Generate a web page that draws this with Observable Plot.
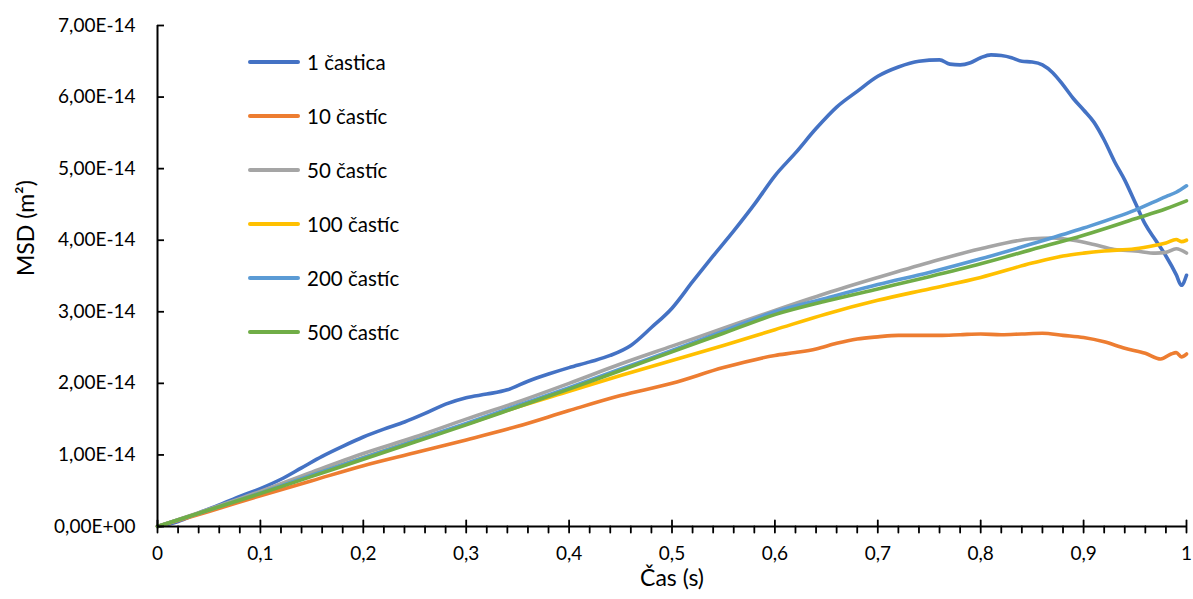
<!DOCTYPE html>
<html>
<head>
<meta charset="utf-8">
<script src="https://cdn.jsdelivr.net/npm/d3@7"></script>
<script src="https://cdn.jsdelivr.net/npm/@observablehq/plot@0.6"></script>
<style>
  html, body { margin: 0; padding: 0; background: #fff; }
  #wrap { position: relative; width: 1193px; height: 599px; font-family: Lato, "Open Sans", sans-serif; }
  #legend { position: absolute; left: 248px; top: 35px; }
  .row { display: flex; align-items: center; height: 54px; font-size: 20.5px; color: #000; }
  .sw { width: 52px; height: 4px; border-radius: 2px; margin-right: 7px; }
</style>
</head>
<body>
<div id="wrap"><div id="legend"></div></div>
<script>
// ---- Data (MSD in units of 1e-14 m^2) ----
const seriesNames = ["1 častica", "10 častíc", "50 častíc", "100 častíc", "200 častíc", "500 častíc"];
const seriesColors = ["#4472C4", "#ED7D31", "#A5A5A5", "#FFC000", "#5B9BD5", "#70AD47"];

const t1 = [0,0.02,0.04,0.06,0.08,0.10,0.12,0.14,0.16,0.18,0.20,0.22,0.24,0.26,0.28,0.30,0.32,0.34,0.36,0.38,0.40,0.42,0.44,0.46,0.48,0.50,0.52,0.54,0.56,0.58,0.60,0.62,0.64,0.66,0.68,0.70,0.72,0.74,0.76,0.77,0.78,0.79,0.80,0.81,0.82,0.83,0.84,0.85,0.86,0.87,0.88,0.89,0.90,0.91,0.92,0.93,0.94,0.95,0.96,0.97,0.98,0.99,0.995,1.0];
const msd1 = [0,0.07,0.19,0.30,0.42,0.53,0.66,0.82,0.98,1.12,1.25,1.36,1.46,1.58,1.71,1.80,1.85,1.91,2.03,2.13,2.22,2.30,2.39,2.53,2.78,3.05,3.42,3.78,4.13,4.50,4.90,5.22,5.56,5.86,6.08,6.29,6.42,6.50,6.52,6.46,6.45,6.48,6.55,6.59,6.58,6.55,6.50,6.49,6.45,6.34,6.17,5.98,5.82,5.65,5.40,5.10,4.84,4.53,4.22,4.00,3.78,3.52,3.37,3.51];

const t10 = [0,0.05,0.1,0.15,0.2,0.25,0.3,0.35,0.4,0.45,0.5,0.55,0.6,0.62,0.64,0.66,0.68,0.70,0.72,0.74,0.76,0.78,0.80,0.82,0.84,0.86,0.88,0.90,0.92,0.94,0.96,0.975,0.985,0.99,0.995,1.0];
const msd10 = [0,0.21,0.43,0.64,0.85,1.03,1.21,1.40,1.62,1.83,2.00,2.22,2.39,2.43,2.48,2.56,2.62,2.65,2.67,2.67,2.67,2.68,2.69,2.68,2.69,2.70,2.67,2.64,2.58,2.49,2.42,2.34,2.41,2.43,2.37,2.41];

const t50 = [0,0.05,0.1,0.15,0.2,0.25,0.3,0.35,0.4,0.45,0.5,0.55,0.6,0.65,0.7,0.75,0.8,0.85,0.87,0.89,0.91,0.93,0.95,0.97,0.98,0.99,1.0];
const msd50 = [0,0.24,0.49,0.76,1.02,1.25,1.50,1.74,2.00,2.27,2.52,2.77,3.02,3.26,3.48,3.69,3.88,4.02,4.03,4.00,3.94,3.87,3.85,3.82,3.83,3.88,3.82];

const t100 = [0,0.05,0.1,0.15,0.2,0.25,0.3,0.35,0.4,0.45,0.5,0.55,0.6,0.65,0.7,0.75,0.8,0.85,0.88,0.9,0.92,0.95,0.97,0.98,0.99,0.995,1.0];
const msd100 = [0,0.23,0.47,0.72,0.96,1.20,1.43,1.67,1.89,2.11,2.32,2.53,2.75,2.97,3.16,3.32,3.48,3.68,3.78,3.82,3.85,3.88,3.93,3.96,4.01,3.98,4.00];

const t200 = [0,0.05,0.1,0.15,0.2,0.25,0.3,0.35,0.4,0.45,0.5,0.55,0.6,0.65,0.7,0.75,0.8,0.85,0.9,0.95,0.98,0.99,1.0];
const msd200 = [0,0.23,0.47,0.72,0.96,1.20,1.44,1.69,1.94,2.20,2.46,2.73,3.00,3.19,3.38,3.55,3.74,3.95,4.17,4.42,4.61,4.67,4.76];

const t500 = [0,0.05,0.1,0.15,0.2,0.25,0.3,0.35,0.4,0.45,0.5,0.55,0.6,0.65,0.7,0.75,0.8,0.85,0.9,0.95,0.98,1.0];
const msd500 = [0,0.23,0.46,0.70,0.94,1.18,1.42,1.67,1.92,2.18,2.44,2.70,2.96,3.15,3.32,3.49,3.67,3.87,4.07,4.30,4.44,4.55];

const xMajorTicks = [0,0.1,0.2,0.3,0.4,0.5,0.6,0.7,0.8,0.9,1];
const xMinorTicks = d3.range(0, 51).map(i => i / 50).filter((d, i) => i % 5 !== 0);
const yTicksUnits = [0,1,2,3,4,5,6,7];
const xLabel = "Čas (s)";
const yLabel = "MSD (m²)";

// ---- Build table ----
const SCALE = 1e-14;
const allT = [t1, t10, t50, t100, t200, t500];
const allV = [msd1, msd10, msd50, msd100, msd200, msd500];
const rows = [];
allT.forEach((ts, s) => ts.forEach((t, i) => rows.push({series: seriesNames[s], t, msd: allV[s][i] * SCALE})));
const yTicks = yTicksUnits.map(k => k * SCALE);

const fmtY = d => {
  const k = Math.round(d / SCALE);
  return k === 0 ? "0,00E+00" : k.toFixed(2).replace(".", ",") + "E-14";
};
const fmtX = d => (d === 0 ? "0" : d === 1 ? "1" : String(+d.toFixed(1)).replace(".", ","));

const seg = (a, b) => ({draw(ctx) { ctx.moveTo(0, a); ctx.lineTo(0, b); }});

const W = 1193, ML = 157, MR = 7;
const frameW = W - ML - MR;

const chart = Plot.plot({
  width: W,
  height: 599,
  marginLeft: ML,
  marginRight: MR,
  marginTop: 25,
  marginBottom: 73,
  style: {fontFamily: "Lato, 'Open Sans', sans-serif", fontSize: "19px", color: "#000", background: "#fff"},
  x: {domain: [0, 1]},
  y: {domain: [0, 7 * SCALE]},
  color: {domain: seriesNames, range: seriesColors},
  marks: [
    ...seriesNames.map((name, i) => Plot.line(rows.filter(r => r.series === name), {
      x: "t", y: "msd", stroke: seriesColors[i], strokeWidth: 3.6, curve: "monotone-x", strokeLinecap: "round", strokeLinejoin: "round"
    })),
    Plot.ruleX([0], {stroke: "#000", strokeWidth: 2}),
    Plot.ruleY([0], {stroke: "#000", strokeWidth: 2}),
    Plot.tickY(yTicks, {y: d => d, insetRight: frameW - 7, stroke: "#000", strokeWidth: 1.8}),
    Plot.vector(xMajorTicks, {x: d => d, y: 0, length: 6, anchor: "start", shape: seg(6, -6), stroke: "#000", strokeWidth: 1.8}),
    Plot.vector(xMinorTicks, {x: d => d, y: 0, length: 6, anchor: "start", shape: seg(0, 6), stroke: "#000", strokeWidth: 1.8}),
    Plot.axisY({ticks: yTicks, tickSize: 0, tickPadding: 22, tickFormat: fmtY, label: null, fontSize: 19}),
    Plot.axisX({ticks: xMajorTicks, tickSize: 0, tickPadding: 20, tickFormat: fmtX, label: null, fontSize: 19}),
    Plot.text([xLabel], {frameAnchor: "bottom", dy: 59, text: d => d, fontSize: 23}),
    Plot.text([yLabel], {frameAnchor: "left", dx: -131, rotate: -90, text: d => d, fontSize: 23})
  ]
});
document.getElementById("wrap").prepend(chart);
chart.style.position = "absolute";
chart.style.left = "0";
chart.style.top = "0";

const legend = document.getElementById("legend");
seriesNames.forEach((n, i) => {
  const row = document.createElement("div");
  row.className = "row";
  const sw = document.createElement("div");
  sw.className = "sw";
  sw.style.background = seriesColors[i];
  const tx = document.createElement("span");
  tx.textContent = n;
  row.append(sw, tx);
  legend.append(row);
});
</script>
</body>
</html>
